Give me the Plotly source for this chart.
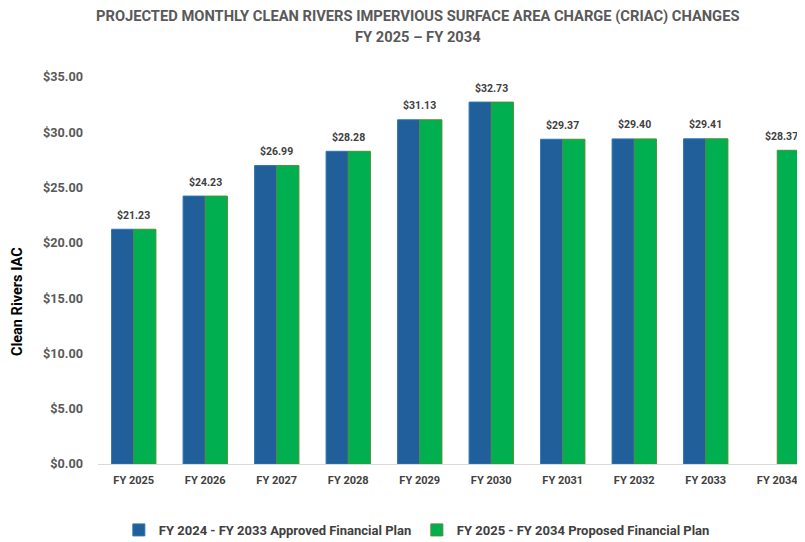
import plotly.graph_objects as go

categories = ["FY 2025", "FY 2026", "FY 2027", "FY 2028", "FY 2029",
              "FY 2030", "FY 2031", "FY 2032", "FY 2033", "FY 2034"]
approved = [21.23, 24.23, 26.99, 28.28, 31.13, 32.73, 29.37, 29.40, 29.41, None]
proposed = [21.23, 24.23, 26.99, 28.28, 31.13, 32.73, 29.37, 29.40, 29.41, 28.37]
label_values = [21.23, 24.23, 26.99, 28.28, 31.13, 32.73, 29.37, 29.40, 29.41, 28.37]
series_names = ["FY 2024 - FY 2033 Approved Financial Plan",
                "FY 2025 - FY 2034 Proposed Financial Plan"]
y_ticks = [0, 5, 10, 15, 20, 25, 30, 35]

FONT = "Roboto, sans-serif"
BLUE = "#215F9A"
GREEN = "#00B050"

fig = go.Figure()
fig.add_trace(go.Bar(x=categories, y=approved, name=series_names[0],
                     marker=dict(color=BLUE, line=dict(color="#2E75B6", width=1))))
fig.add_trace(go.Bar(x=categories, y=proposed, name=series_names[1],
                     marker=dict(color=GREEN, line=dict(color="#4E8F2F", width=1))))

for i, (c, v) in enumerate(zip(categories, label_values)):
    shift = 4 if approved[i] is None else 0
    fig.add_annotation(x=c, y=v, text=f"${v:.2f}", showarrow=False,
                       yshift=14, xshift=shift, yanchor="middle",
                       font=dict(family=FONT, size=10.5, color="#404040", weight="bold"))

fig.add_annotation(xref="paper", yref="paper", x=0.4526, y=1.158,
                   text="PROJECTED MONTHLY CLEAN RIVERS IMPERVIOUS SURFACE AREA CHARGE (CRIAC) CHANGES",
                   showarrow=False, yanchor="middle",
                   font=dict(family=FONT, size=14.7, color="#595959", weight="bold"))
fig.add_annotation(xref="paper", yref="paper", x=0.4526, y=1.103,
                   text="FY 2025 – FY 2034", showarrow=False, yanchor="middle",
                   font=dict(family=FONT, size=14.7, color="#595959", weight="bold"))
fig.add_annotation(xref="paper", yref="paper", x=-0.1146, y=0.421,
                   text="Clean Rivers IAC", showarrow=False, textangle=-90,
                   xanchor="center", yanchor="middle",
                   font=dict(family=FONT, size=14.5, color="#000000", weight="bold"))

fig.update_layout(
    width=805, height=542,
    margin=dict(l=90, r=8, t=69, b=86, autoexpand=False),
    paper_bgcolor="white", plot_bgcolor="white",
    barmode="group", bargap=0.38, bargroupgap=0,
    showlegend=True,
    legend=dict(orientation="h", x=0.0295, xanchor="left",
                yref="container", y=0.037, yanchor="middle",
                font=dict(family=FONT, size=13, color="#404040", weight="bold"),
                itemwidth=30, entrywidth=253),
    xaxis=dict(range=[-0.5, 9.388], showgrid=False, showline=True, linecolor="#D9D9D9",
               linewidth=1, ticks="", automargin=False, ticklabelstandoff=6,
               tickfont=dict(family=FONT, size=11, color="#404040", weight="bold")),
    yaxis=dict(range=[0, 35], tickvals=y_ticks, ticktext=[f"${t:.2f}" for t in y_ticks],
               showgrid=False, zeroline=False, showline=False, ticks="",
               ticklabelstandoff=14, automargin=False,
               tickfont=dict(family=FONT, size=12.7, color="#595959", weight="bold")),
)

fig.write_html("out.html")
